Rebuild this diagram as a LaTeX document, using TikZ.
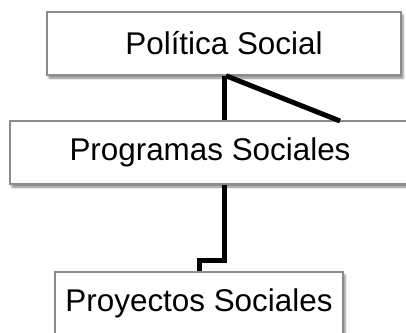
\documentclass[tikz,border=0pt]{standalone}
\usepackage{fontspec}
\setmainfont{Liberation Sans}
\usetikzlibrary{shadows.blur}
\definecolor{bordecaja}{RGB}{140,140,140}
\begin{document}
\begin{tikzpicture}[x=1pt,y=-1pt]
    \tikzstyle{caja}=[rectangle, draw=bordecaja, line width=1.5pt, fill=white, minimum height=63pt, inner sep=0pt,
                      font=\fontsize{31.4}{36}\selectfont,
                      blur shadow={shadow xshift=2pt, shadow yshift=-3pt, shadow blur steps=4, shadow opacity=50}]
    \tikzstyle{linea}=[draw=black, line width=5pt]
    \useasboundingbox (0,0) rectangle (406,332);

    \node[caja, minimum width=354pt] (politica)  at (224,43.5)  {Política Social};
    \node[caja, minimum width=400pt] (programas) at (210,152.5) {Programas Sociales};
    \node[caja, minimum width=288pt] (proyectos) at (199,303.5) {Proyectos Sociales};

    \coordinate (finDiagonal) at (340,121);
    \draw[linea] (politica.south) -- (politica.south |- programas.north);
    \draw[linea] ([xshift=2pt]politica.south) -- (finDiagonal);
    \draw[linea] (politica.south |- programas.south) -- ++(0,76) -| (proyectos.north);

\end{tikzpicture}
\end{document}
